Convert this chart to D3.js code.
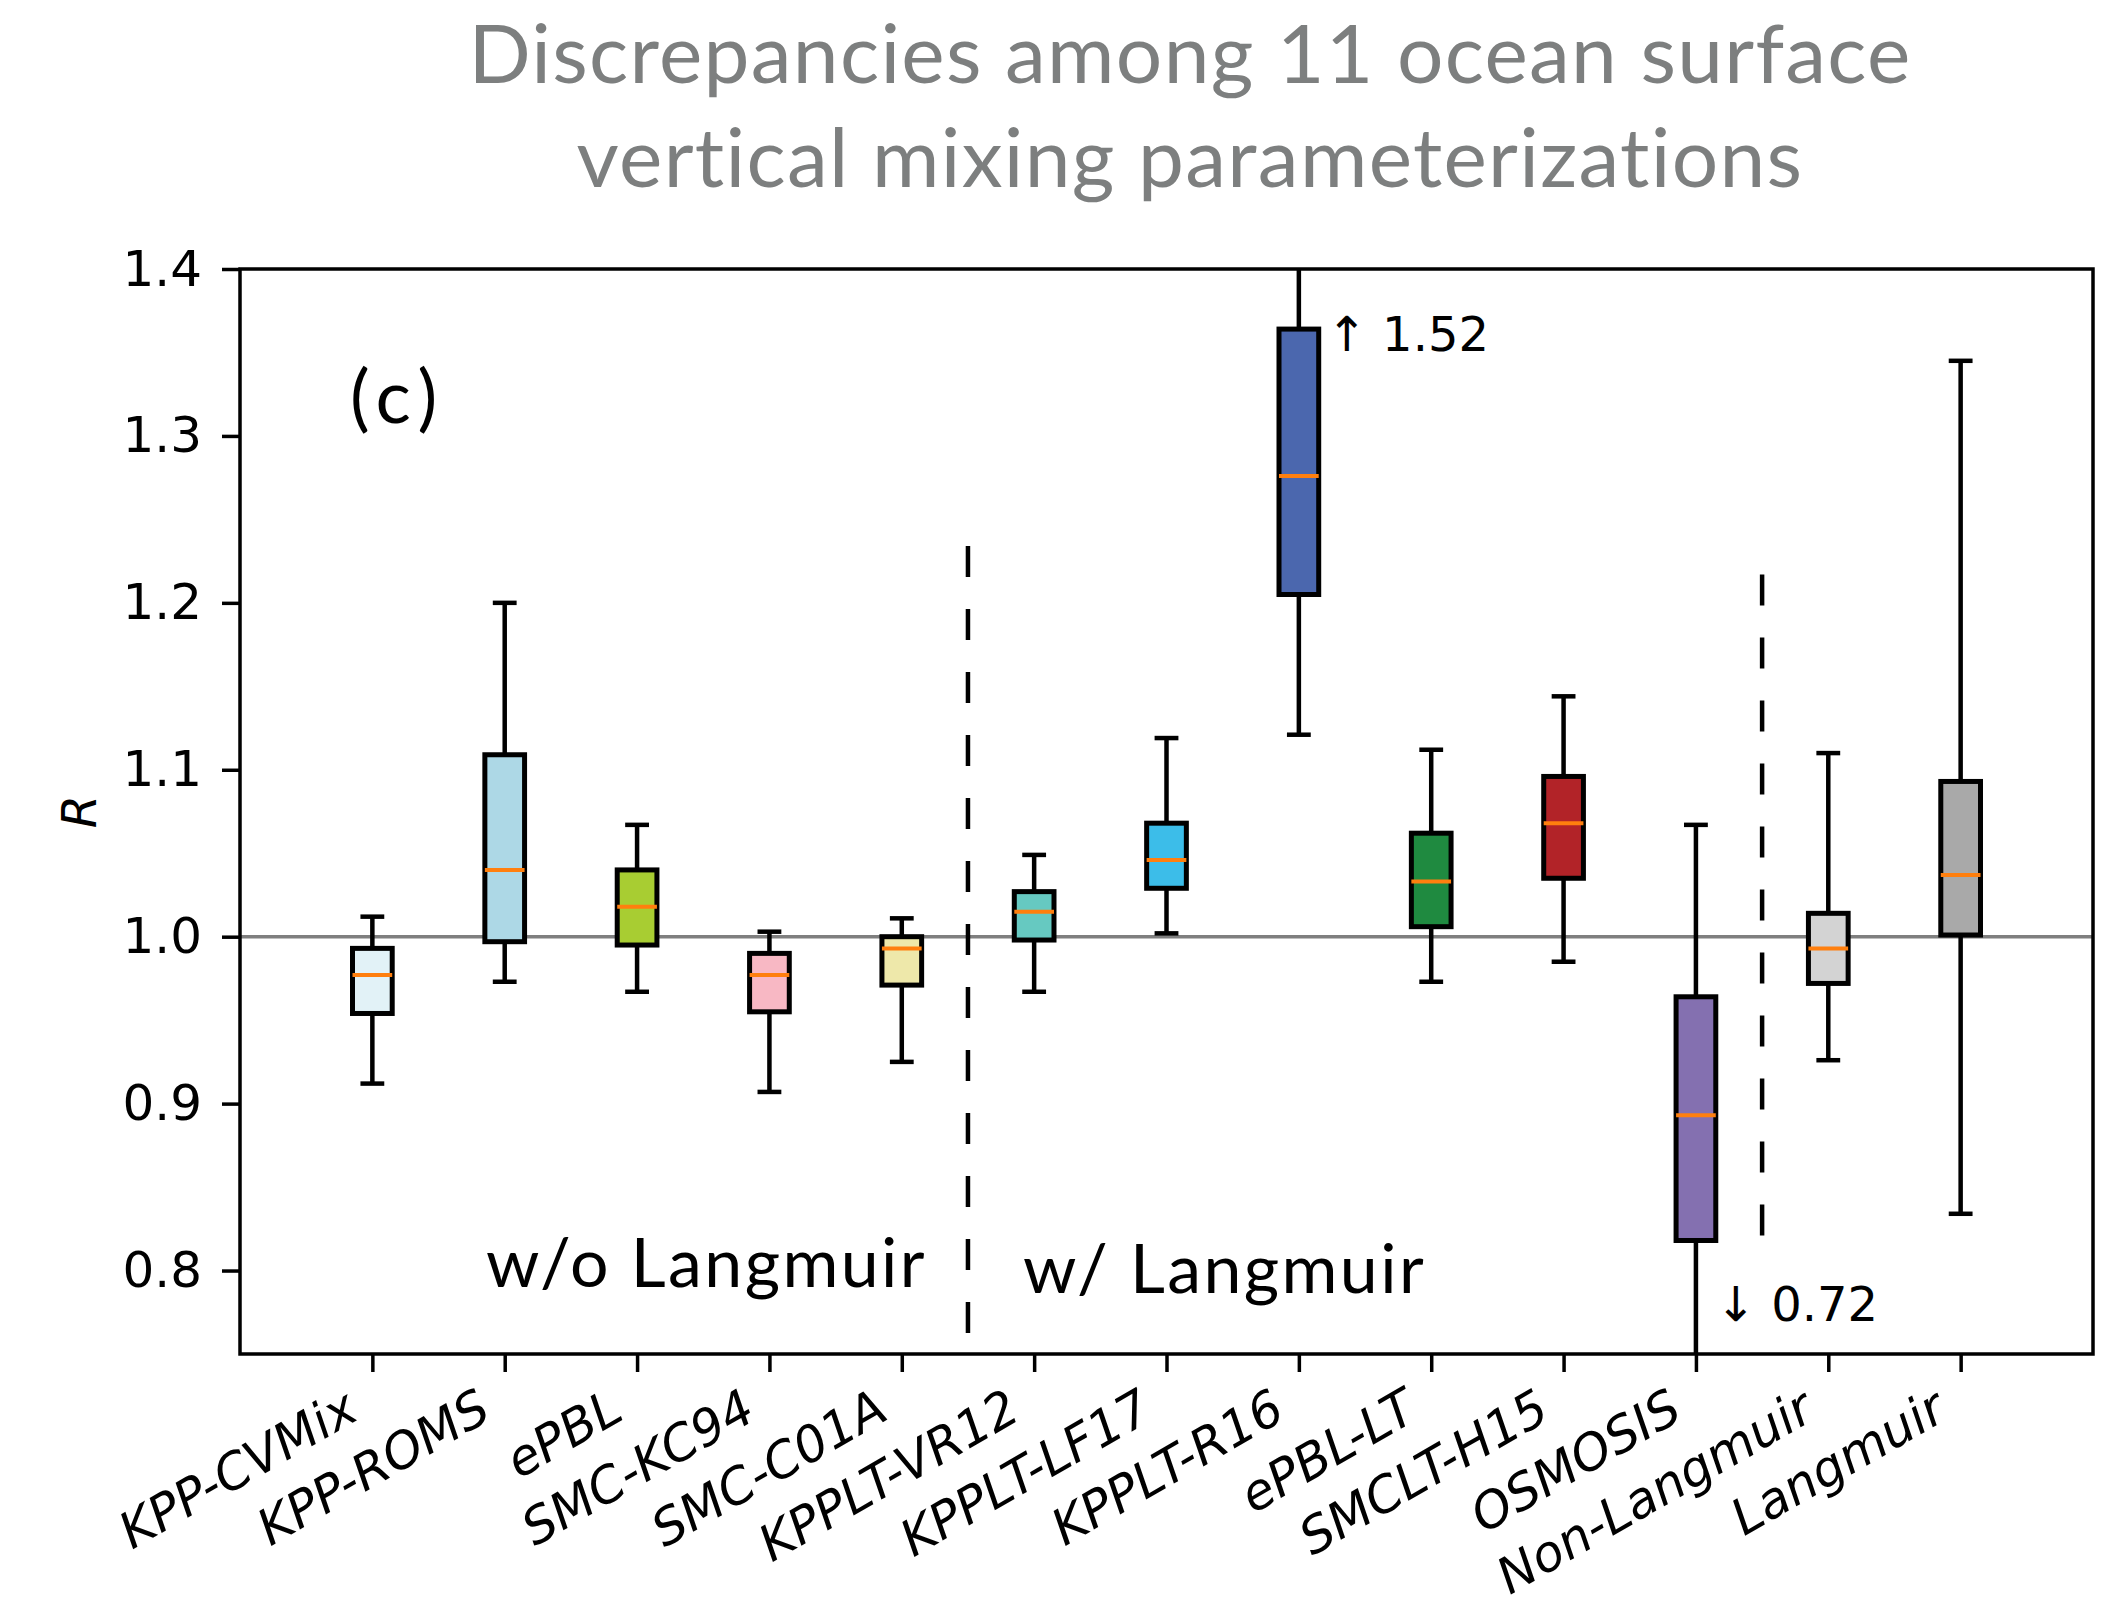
<!DOCTYPE html>
<html>
<head>
<meta charset="utf-8">
<script src="https://cdn.jsdelivr.net/npm/d3@7"></script>
<style>
  body { margin: 0; background: #fff; }
  svg { display: block; }
</style>
</head>
<body>
<div id="chart"></div>
<script>
// schemes, in plotting order
const schemes = ["KPP-CVMix", "KPP-ROMS", "ePBL", "SMC-KC94", "SMC-C01A", "KPPLT-VR12",
  "KPPLT-LF17", "KPPLT-R16", "ePBL-LT", "SMCLT-H15", "OSMOSIS", "Non-Langmuir", "Langmuir"];
const whiskLo = [0.912, 0.973, 0.967, 0.907, 0.925, 0.967, 1.002, 1.121, 0.973, 0.985, 0.72, 0.926, 0.834];
const q1      = [0.954, 0.997, 0.995, 0.955, 0.971, 0.998, 1.029, 1.205, 1.006, 1.035, 0.818, 0.972, 1.001];
const median  = [0.977, 1.040, 1.018, 0.977, 0.993, 1.015, 1.046, 1.276, 1.033, 1.068, 0.893, 0.993, 1.037];
const q3      = [0.993, 1.109, 1.040, 0.990, 1.000, 1.027, 1.068, 1.364, 1.062, 1.096, 0.964, 1.014, 1.093];
const whiskHi = [1.012, 1.200, 1.067, 1.003, 1.011, 1.049, 1.119, 1.52, 1.112, 1.144, 1.067, 1.110, 1.345];
const fills = ["#e2f2f7", "#add8e6", "#a8cd32", "#f8b8c4", "#eee8aa", "#66c9c1", "#3cbde9",
  "#4b67ae", "#1f8a40", "#b22328", "#8470b0", "#d3d3d3", "#a9a9a9"];
const yTicks = [0.8, 0.9, 1.0, 1.1, 1.2, 1.3, 1.4];

// dashed separators: after which scheme, and their vertical extent
const separators = [
  { after: "SMC-C01A", from: 0.762, to: 1.234 },
  { after: "OSMOSIS", from: 0.815, to: 1.217 }
];
// off-scale whisker notes
const notes = [
  { text: "\u2191 1.52", at: 7.21, y: 1.351 },
  { text: "\u2193 0.72", at: 10.15, y: 0.770 }
];

const W = 2111, H = 1602;
const m = { left: 240, right: 2093, top: 269, bottom: 1354 };

const svg = d3.select("#chart").append("svg")
  .attr("width", W).attr("height", H);

// title
const title = svg.append("text")
  .attr("x", 1190).attr("text-anchor", "middle")
  .style("font-family", "Lato, 'Noto Sans', sans-serif")
  .style("font-size", "82px")
  .style("letter-spacing", "1.3px")
  .style("fill", "#7d7f7f");
title.append("tspan").attr("x", 1190).attr("y", 83).text("Discrepancies among 11 ocean surface");
title.append("tspan").attr("x", 1190).attr("y", 187).text("vertical mixing parameterizations");

const x = d3.scalePoint().domain(schemes).range([m.left, m.right]).padding(1);
const y = d3.scaleLinear().domain([0.75, 1.4]).range([m.bottom, m.top]);

svg.append("defs").append("clipPath").attr("id", "plotclip")
  .append("rect")
  .attr("x", m.left).attr("y", m.top)
  .attr("width", m.right - m.left).attr("height", m.bottom - m.top);

const plot = svg.append("g").attr("clip-path", "url(#plotclip)");

// reference line R = 1
plot.append("line")
  .attr("x1", m.left).attr("x2", m.right)
  .attr("y1", y(1)).attr("y2", y(1))
  .attr("stroke", "#7f7f7f").attr("stroke-width", 3.5);

const boxW = x.step() * 0.3;
const capW = x.step() * 0.18;

const data = schemes.map((s, i) => ({
  name: s, lo: whiskLo[i], q1: q1[i], med: median[i], q3: q3[i], hi: whiskHi[i], fill: fills[i]
}));

const g = plot.selectAll("g.box").data(data).join("g").attr("class", "box");

// whiskers
g.append("line")
  .attr("x1", d => x(d.name)).attr("x2", d => x(d.name))
  .attr("y1", d => y(d.lo)).attr("y2", d => y(d.q1))
  .attr("stroke", "#000").attr("stroke-width", 4.5);
g.append("line")
  .attr("x1", d => x(d.name)).attr("x2", d => x(d.name))
  .attr("y1", d => y(d.q3)).attr("y2", d => y(d.hi))
  .attr("stroke", "#000").attr("stroke-width", 4.5);
// caps
g.selectAll("line.cap").data(d => [[d.name, d.lo], [d.name, d.hi]]).join("line")
  .attr("class", "cap")
  .attr("x1", d => x(d[0]) - capW / 2).attr("x2", d => x(d[0]) + capW / 2)
  .attr("y1", d => y(d[1])).attr("y2", d => y(d[1]))
  .attr("stroke", "#000").attr("stroke-width", 4.5);
// boxes
g.append("rect")
  .attr("x", d => x(d.name) - boxW / 2)
  .attr("width", boxW)
  .attr("y", d => y(d.q3))
  .attr("height", d => y(d.q1) - y(d.q3))
  .attr("fill", d => d.fill)
  .attr("stroke", "#000").attr("stroke-width", 5);
// medians
g.append("line")
  .attr("x1", d => x(d.name) - boxW / 2).attr("x2", d => x(d.name) + boxW / 2)
  .attr("y1", d => y(d.med)).attr("y2", d => y(d.med))
  .attr("stroke", "#ff7f0e").attr("stroke-width", 4);

// dashed separators
plot.selectAll("line.sep").data(separators).join("line")
  .attr("class", "sep")
  .attr("x1", d => x(d.after) + x.step() / 2).attr("x2", d => x(d.after) + x.step() / 2)
  .attr("y1", d => y(d.to)).attr("y2", d => y(d.from))
  .attr("stroke", "#000").attr("stroke-width", 4.5)
  .attr("stroke-dasharray", "31,32");

// axes
const yAxis = svg.append("g")
  .attr("transform", `translate(${m.left},0)`)
  .call(d3.axisLeft(y).tickValues(yTicks).tickFormat(d3.format(".1f")).tickSize(18).tickPadding(20));
yAxis.select(".domain").remove();
yAxis.selectAll(".tick line").attr("stroke-width", 3.5);
yAxis.selectAll(".tick text")
  .style("font-family", "'DejaVu Sans', sans-serif")
  .style("font-size", "50px").attr("fill", "#000");

const xAxis = svg.append("g")
  .attr("transform", `translate(0,${m.bottom})`)
  .call(d3.axisBottom(x).tickSize(18));
xAxis.select(".domain").remove();
xAxis.selectAll(".tick line").attr("stroke-width", 3.5);
xAxis.selectAll(".tick text")
  .attr("y", 0).attr("dy", null)
  .attr("transform", "translate(-12,64) rotate(-30)")
  .attr("text-anchor", "end")
  .style("font-family", "'DejaVu Sans', sans-serif")
  .style("font-style", "oblique")
  .style("font-size", "50px").attr("fill", "#000");

// frame
svg.append("rect")
  .attr("x", m.left).attr("y", m.top)
  .attr("width", m.right - m.left).attr("height", m.bottom - m.top)
  .attr("fill", "none").attr("stroke", "#000").attr("stroke-width", 3.5);

// y label
svg.append("text")
  .attr("transform", `translate(96,${(m.top + m.bottom) / 2}) rotate(-90)`)
  .attr("text-anchor", "middle")
  .style("font-family", "'DejaVu Sans', sans-serif")
  .style("font-style", "italic")
  .style("font-size", "48px")
  .text("R");

// notes for clipped whiskers
const xLin = d3.scaleLinear().domain([0, schemes.length - 1]).range([x(schemes[0]), x(schemes[schemes.length - 1])]);
svg.selectAll("text.note").data(notes).join("text")
  .attr("class", "note")
  .attr("x", d => xLin(d.at)).attr("y", d => y(d.y))
  .style("font-family", "'DejaVu Sans', sans-serif")
  .style("font-size", "48px")
  .text(d => d.text);

// panel label and group labels
const sans = "Lato, 'Noto Sans', sans-serif";
svg.append("text").attr("x", 350).attr("y", 423)
  .style("font-family", sans).style("font-size", "74px").style("letter-spacing", "8px").text("(c)");
svg.append("text").attr("x", 486).attr("y", 1287)
  .style("font-family", sans).style("font-size", "68px").style("letter-spacing", "2.4px").text("w/o Langmuir");
svg.append("text").attr("x", 1023).attr("y", 1293)
  .style("font-family", sans).style("font-size", "68px").style("letter-spacing", "2.4px").text("w/ Langmuir");
</script>
</body>
</html>
